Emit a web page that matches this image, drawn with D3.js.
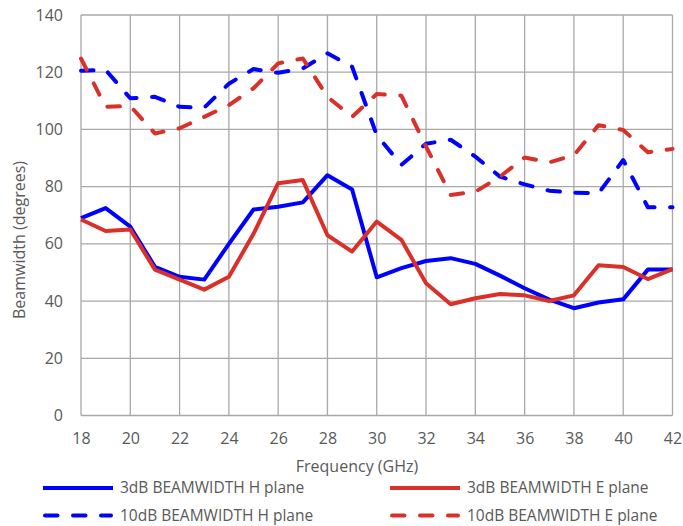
<!DOCTYPE html>
<html><head><meta charset="utf-8">
<script src="https://cdn.jsdelivr.net/npm/d3@7"></script>
<style>body{margin:0;background:#fff;} text{font-family:"Open Sans",Calibri,sans-serif;fill:#595959;}</style>
</head><body><svg id="c" width="683" height="526"></svg>
<script>
const freq = [18,19,20,21,22,23,24,25,26,27,28,29,30,31,32,33,34,35,36,37,38,39,40,41,42];
const h3dB = [69,72.5,66,52,48.5,47.5,60,72,73,74.5,84,79,48.3,51.5,54,55,53,48.9,44.5,40.5,37.5,39.5,40.6,51,51];
const e3dB = [68.5,64.5,65,51,47.5,44,48.5,63.5,81.2,82.3,63,57.3,67.8,61.4,46.2,38.9,41,42.5,42,40,42,52.5,51.9,47.7,51.2];
const h10dB = [120.5,120.8,110.9,111.4,107.9,107.6,116,121.1,119.8,121.3,126.6,121.9,98,87.6,95,96.4,90.5,83.5,80.8,78.6,77.9,77.7,89.3,72.8,72.8];
const e10dB = [124.8,107.9,108.2,98.6,100.4,104.4,108.5,114.4,123.1,124.8,111.4,104.4,112.4,111.8,94,77.1,78.2,83.5,90.2,88.5,91,101.5,99.8,92,93.2];
const xTicks = [18,20,22,24,26,28,30,32,34,36,38,40,42];
const yTicks = [0,20,40,60,80,100,120,140];
const seriesNames = ["3dB BEAMWIDTH H plane","3dB BEAMWIDTH E plane","10dB BEAMWIDTH H plane","10dB BEAMWIDTH E plane"];

const BLUE="#0000ff", RED="#d9312a", DASH="12.5 15.5";
const series=[
 {name:seriesNames[0],vals:h3dB,color:BLUE,dash:null},
 {name:seriesNames[1],vals:e3dB,color:RED,dash:null},
 {name:seriesNames[2],vals:h10dB,color:BLUE,dash:DASH},
 {name:seriesNames[3],vals:e10dB,color:RED,dash:DASH}
];
const svg=d3.select("#c");
const L=81,R=672.5,T=15,B=415.5;
const x=d3.scaleLinear().domain([18,42]).range([L,R]);
const y=d3.scaleLinear().domain([0,140]).range([B,T]);
const grid="#a8a8a8";
const g=svg.append("g");
g.selectAll(".vg").data(xTicks).join("line").attr("x1",d=>x(d)).attr("x2",d=>x(d)).attr("y1",T).attr("y2",B).attr("stroke",grid).attr("stroke-width",1.3);
g.selectAll(".hg").data(yTicks).join("line").attr("x1",L).attr("x2",R).attr("y1",d=>y(d)).attr("y2",d=>y(d)).attr("stroke",grid).attr("stroke-width",1.3);

const xa=svg.append("g").attr("transform",`translate(0,${B})`).call(d3.axisBottom(x).tickValues(xTicks).tickSize(0).tickPadding(17.5).tickFormat(d3.format("d")));
const ya=svg.append("g").attr("transform",`translate(${L},0)`).call(d3.axisLeft(y).tickValues(yTicks).tickSize(0).tickPadding(18).tickFormat(d3.format("d")));
[xa,ya].forEach(a=>{a.select(".domain").remove();a.selectAll("text").style("font-size","16px").attr("fill","#595959").style("font-family","'Open Sans',sans-serif");});

const line=d3.line().x((d,i)=>x(freq[i])).y(d=>y(d));
series.forEach(s=>{
  svg.append("path").datum(s.vals).attr("d",line).attr("fill","none").attr("stroke",s.color).attr("stroke-width",4)
   .attr("stroke-linejoin","round").attr("stroke-linecap",s.dash?"round":"butt").attr("stroke-dasharray",s.dash);
});

svg.append("text").attr("x",357).attr("y",472).attr("text-anchor","middle").style("font-size","16px").text("Frequency (GHz)");
svg.append("text").attr("transform",`translate(25,240) rotate(-90)`).attr("text-anchor","middle").style("font-size","16px").text("Beamwidth (degrees)");

const leg=[{x:43,y:488,tx:120},{x:390,y:488,tx:467},{x:43,y:515.5,tx:120},{x:390,y:515.5,tx:467}];
series.forEach((s,i)=>{
  const p=leg[i];
  svg.append("line").attr("x1",p.x+(s.dash?2:0)).attr("x2",p.x+70-(s.dash?2:0)).attr("y1",p.y).attr("y2",p.y).attr("stroke",s.color).attr("stroke-width",4)
    .attr("stroke-linecap",s.dash?"round":"butt").attr("stroke-dasharray",s.dash);
  svg.append("text").attr("x",p.tx).attr("y",p.y+5).style("font-size","15.5px").text(s.name);
});
</script></body></html>
